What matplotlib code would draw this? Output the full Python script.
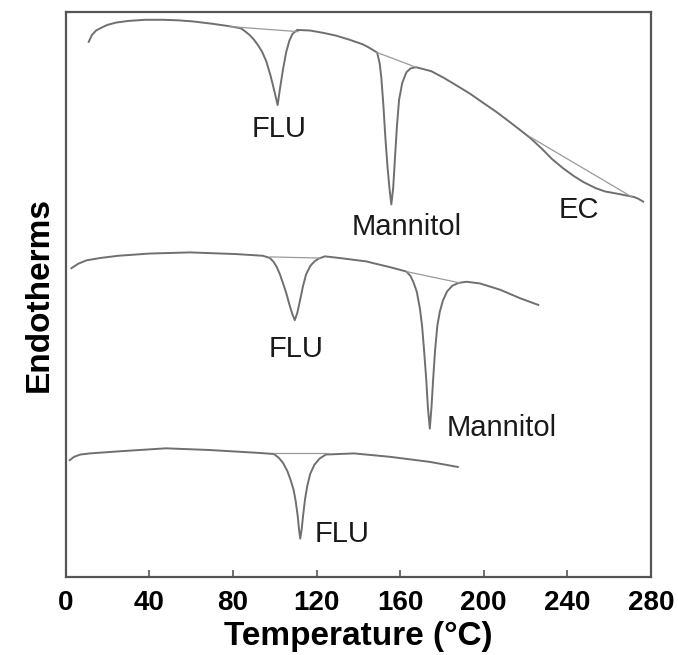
import matplotlib
matplotlib.use("Agg")
import matplotlib.pyplot as plt

plt.rcParams['font.family'] = ['Liberation Sans', 'DejaVu Sans']

# ── DSC traces (temperature in °C, signal in arbitrary offset units 0-100) ──
top_T = [11.0, 12.5, 14.5, 17.6, 20.0, 24.0, 30.0, 38.0, 46.6, 54.0, 61.1,
         70.0, 77.6, 83.8, 86.0, 88.0, 90.0, 92.0, 94.0, 96.0, 98.0, 100.0,
         101.4, 102.5, 104.0, 105.5, 107.0, 108.5, 110.7, 116.9, 123.0, 129.3,
         135.5, 141.8, 145.0, 149.0, 150.2, 151.0, 152.0, 153.0, 154.0, 155.0,
         155.8, 156.7, 157.5, 158.5, 159.5, 161.0, 163.0, 165.0, 167.6, 174.9,
         181.0, 187.3, 193.5, 199.7, 206.0, 212.1, 217.0, 222.5, 228.0, 232.8,
         238.0, 243.2, 248.0, 253.5, 258.0, 263.9, 268.0, 272.1, 274.0, 276.3]
top_y = [94.8, 96.0, 96.8, 97.4, 97.8, 98.2, 98.5, 98.7, 98.7, 98.6, 98.4,
         98.0, 97.6, 97.2, 96.6, 96.0, 95.2, 94.2, 93.0, 91.3, 88.8, 85.8,
         83.6, 86.5, 90.0, 93.0, 95.0, 96.2, 96.9, 96.8, 96.4, 95.9,
         95.2, 94.4, 93.8, 92.9, 91.0, 88.5, 83.5, 77.5, 72.5, 68.5,
         66.0, 69.0, 74.0, 80.0, 84.5, 87.5, 89.4, 90.1, 90.3, 89.6,
         88.4, 87.0, 85.6, 84.0, 82.4, 80.7, 79.3, 77.7, 75.8, 74.0,
         72.4, 71.0, 69.9, 68.9, 68.3, 67.9, 67.6, 67.3, 67.0, 66.5]

mid_T = [2.7, 6.0, 10.0, 16.3, 25.0, 40.2, 59.4, 81.7, 94.4, 97.7, 99.5, 101.0,
         102.5, 104.0, 105.5, 107.0, 108.5, 109.6, 110.8, 112.0, 113.5, 115.0,
         117.0, 119.0, 121.0, 124.0, 131.2, 143.9, 147.1, 155.0, 163.1, 165.0,
         166.5, 168.0, 169.5, 170.5, 171.5, 172.5, 173.3, 174.2, 175.0, 175.8,
         176.7, 177.8, 179.0, 180.5, 182.5, 185.0, 188.0, 191.8, 198.2, 207.8,
         217.3, 226.1]
mid_y = [54.7, 55.5, 56.1, 56.5, 56.9, 57.3, 57.5, 57.2, 56.9, 56.5, 55.8, 54.9,
         53.6, 52.0, 50.3, 48.3, 46.5, 45.5, 46.8, 48.8, 51.5, 53.6,
         55.1, 55.9, 56.4, 56.8, 56.5, 55.9, 55.6, 54.9, 54.1, 53.3,
         52.1, 50.5, 47.5, 44.5, 40.0, 35.0, 30.0, 26.3, 30.0, 35.0,
         40.0, 44.5, 47.0, 49.0, 50.6, 51.6, 52.1, 52.3, 52.0, 50.9,
         49.4, 48.2]

bot_T = [1.9, 4.0, 7.0, 11.5, 26.8, 47.9, 68.9, 91.9, 99.6, 102.0, 104.0,
         106.0, 107.5, 109.0, 110.0, 111.0, 111.6, 112.2, 112.9, 113.6, 114.5,
         115.6, 117.0, 119.0, 121.5, 124.5, 137.9, 155.1, 174.2, 187.6]
bot_y = [20.7, 21.3, 21.7, 21.9, 22.3, 22.8, 22.5, 22.0, 21.8, 21.1, 20.2,
         18.8, 17.3, 15.5, 13.5, 10.8, 8.5, 6.8, 8.5, 11.0, 13.8,
         16.2, 18.3, 19.9, 21.0, 21.7, 21.9, 21.3, 20.4, 19.5]

# interpolated baselines under each peak (start T, start y, end T, end y)
baselines = [
    (78.5, 97.5, 111.2, 96.6),
    (149.0, 92.9, 167.6, 90.3),
    (222.0, 78.0, 271.0, 67.3),
    (97.7, 56.7, 121.6, 56.5),
    (163.1, 54.1, 188.6, 52.1),
    (99.6, 21.9, 125.5, 21.9),
]

# peak labels: text, x, y
labels = [
    ("FLU", 102, 79.4), ("Mannitol", 163, 62), ("EC", 245.6, 65),
    ("FLU", 110, 40.4), ("Mannitol", 208.7, 26.4), ("FLU", 132, 7.7),
]

fig = plt.figure(figsize=(6.78, 6.55), dpi=100)
ax = fig.add_axes([0.097, 0.119, 0.863, 0.862])

line_col = "#6f6f6f"
for T, y in [(top_T, top_y), (mid_T, mid_y), (bot_T, bot_y)]:
    ax.plot(T, y, color=line_col, lw=1.4, solid_joinstyle="round")

for t0, y0, t1, y1 in baselines:
    ax.plot([t0, t1], [y0, y1], color="#9a9a9a", lw=0.9)

for txt, x, y in labels:
    ax.text(x, y, txt, fontsize=21, color="#1a1a1a", ha="center", va="center")

ax.set_xlim(0, 280)
ax.set_ylim(0, 100)
ax.set_xticks(range(0, 281, 40))
ax.set_yticks([])
ax.tick_params(axis="x", direction="in", length=5, width=1.2, colors="#555555",
               labelcolor="black", labelsize=20, pad=9)
for lab in ax.get_xticklabels():
    lab.set_fontweight("bold")

for sp in ax.spines.values():
    sp.set_edgecolor("#555555")
    sp.set_linewidth(1.6)

ax.set_xlabel("Temperature (°C)", fontsize=24, fontweight="bold", labelpad=4)
ax.set_ylabel("Endotherms", fontsize=24, fontweight="bold", labelpad=8)

fig.savefig("out.png", dpi=100)
